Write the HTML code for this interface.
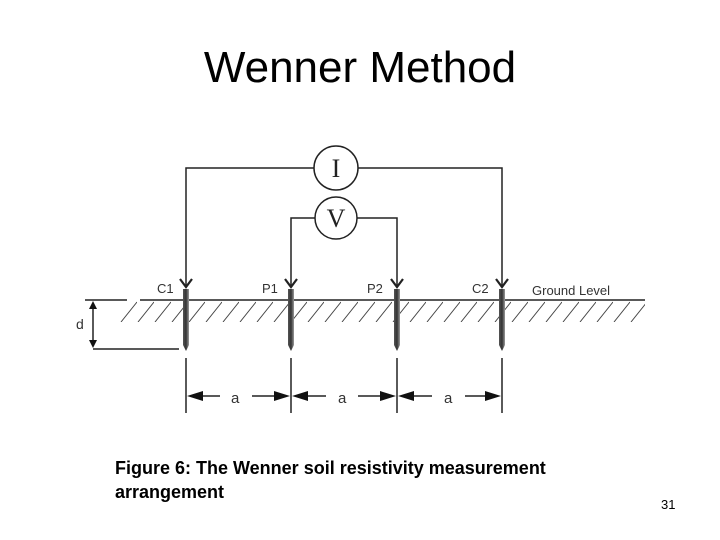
<!DOCTYPE html>
<html><head><style>
body{margin:0;width:720px;height:540px;background:#fff;overflow:hidden;font-family:"Liberation Sans",sans-serif}
.t{position:absolute;left:0;width:720px;top:43px;text-align:center;font-size:44px;color:#000}
.c{position:absolute;left:115px;top:456px;font-size:18px;font-weight:bold;line-height:24px}
.n{position:absolute;left:661px;top:497px;font-size:13px}
</style></head><body>
<div class="t">Wenner Method</div>
<svg width="720" height="540" style="position:absolute;left:0;top:0">
<defs>
<linearGradient id="r" x1="0" x2="1"><stop offset="0" stop-color="#555"/><stop offset="0.5" stop-color="#333"/><stop offset="1" stop-color="#999"/></linearGradient>
<pattern id="h" width="17" height="22" patternUnits="userSpaceOnUse" x="120" y="300"><line x1="1" y1="22" x2="17" y2="2" stroke="#444" stroke-width="1"/></pattern>
</defs>
<g stroke="#222" stroke-width="1.5" fill="none">
<polyline points="186,287 186,168 314,168"/><polyline points="358,168 502,168 502,287"/>
<polyline points="291,287 291,218 315,218"/><polyline points="357,218 397,218 397,287"/>
<circle cx="336" cy="168" r="22" fill="#fff"/><circle cx="336" cy="218" r="21" fill="#fff"/>
<path d="M180,279 L186,287 L192,279 M285,279 L291,287 L297,279 M391,279 L397,287 L403,279 M496,279 L502,287 L508,279" stroke-width="2.2"/>
<line x1="85" y1="300" x2="127" y2="300"/><line x1="140" y1="300" x2="645" y2="300"/>
<line x1="93" y1="349" x2="179" y2="349"/><line x1="93" y1="304" x2="93" y2="345"/>
<line x1="186" y1="358" x2="186" y2="413"/><line x1="291" y1="358" x2="291" y2="413"/><line x1="397" y1="358" x2="397" y2="413"/><line x1="502" y1="358" x2="502" y2="413"/>
<line x1="192" y1="396" x2="220" y2="396"/><line x1="252" y1="396" x2="285" y2="396"/>
<line x1="297" y1="396" x2="326" y2="396"/><line x1="358" y1="396" x2="391" y2="396"/>
<line x1="403" y1="396" x2="432" y2="396"/><line x1="465" y1="396" x2="496" y2="396"/>
</g>
<rect x="120" y="301" width="525" height="21" fill="url(#h)"/>
<g fill="#111">
<path d="M93,301 L89,309 L97,309Z M93,348 L89,340 L97,340Z"/>
<path d="M187,396 L203,391 L203,401Z M290,396 L274,391 L274,401Z M292,396 L308,391 L308,401Z M396,396 L380,391 L380,401Z M398,396 L414,391 L414,401Z M501,396 L485,391 L485,401Z"/>
</g>
<g fill="url(#r)">
<path d="M183,289 h6 v56 l-3,6 l-3,-6Z"/><path d="M288,289 h6 v56 l-3,6 l-3,-6Z"/><path d="M394,289 h6 v56 l-3,6 l-3,-6Z"/><path d="M499,289 h6 v56 l-3,6 l-3,-6Z"/>
</g>
<g font-family="Liberation Serif,serif" font-size="26" text-anchor="middle" fill="#222"><text x="336" y="177">I</text><text x="336" y="227">V</text></g>
<g font-family="Liberation Sans,sans-serif" font-size="13" fill="#333">
<text x="157" y="293">C1</text><text x="262" y="293">P1</text><text x="367" y="293">P2</text><text x="472" y="293">C2</text>
<text x="532" y="295">Ground Level</text><text x="76" y="329" font-size="14">d</text>
<text x="231" y="403" font-size="15">a</text><text x="338" y="403" font-size="15">a</text><text x="444" y="403" font-size="15">a</text>
</g>
</svg>
<div class="c">Figure 6: The Wenner soil resistivity measurement<br>arrangement</div>
<div class="n">31</div>
</body></html>
